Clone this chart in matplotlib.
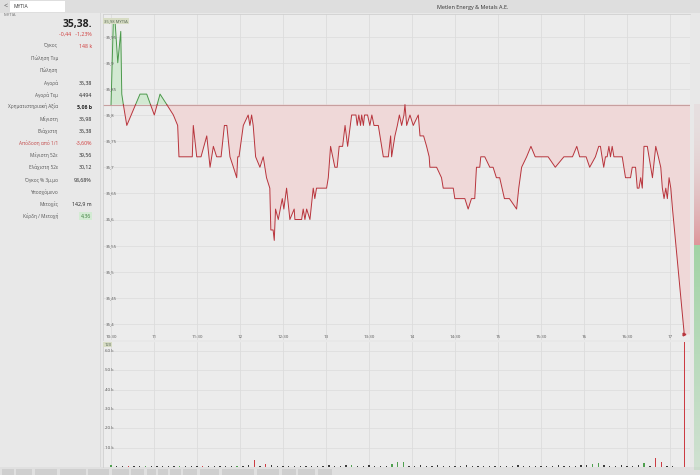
import numpy as np
import matplotlib
matplotlib.use("Agg")
import matplotlib.pyplot as plt
from matplotlib.patches import Rectangle
import matplotlib.transforms as mtransforms

plt.rcParams["font.family"] = ["Open Sans", "DejaVu Sans"]

W, H = 700, 475

# ---------------- data ----------------
prev_close = 35.82

# intraday trades: minutes after 10:30 and price (10 per row)
price_min = [0, 1.6, 2.8, 4.7, 6.8, 7.5, 8.6, 11.0, 20.2, 24.9,
             30.2, 34.2, 38.9, 43.5, 46.5, 47.4, 56.7, 57.4, 59.8, 62.8,
             66.8, 69.1, 71.4, 73.7, 76.8, 79.1, 80.8, 83.0, 85.4, 87.7,
             88.4, 89.3, 92.3, 95.7, 96.9, 98.1, 99.2, 100.9, 103.9, 106.2,
             108.5, 110.8, 111.5, 113.1, 113.9, 114.8, 116.7, 119.5, 120.6, 122.5,
             124.8, 127.8, 128.3, 133.0, 134.1, 135.3, 136.5, 138.8, 141.1, 142.2,
             143.4, 150.4, 151.6, 153.2, 156.2, 157.8, 159.2, 161.6, 163.3, 165.1,
             167.9, 170.9, 171.8, 172.9, 174.1, 174.9, 176.1, 176.9, 179.0, 180.6,
             182.0, 183.5, 186.5, 188.8, 190.0, 193.5, 195.1, 195.8, 198.1, 199.8,
             201.2, 202.8, 204.4, 205.1, 206.3, 208.6, 210.9, 214.4, 215.6, 218.1,
             220.2, 222.0, 222.5, 227.2, 230.6, 231.8, 238.8, 239.9, 246.9, 249.2,
             251.5, 253.8, 255.0, 257.3, 258.0, 260.8, 264.3, 266.6, 268.9, 271.2,
             274.5, 278.0, 283.0, 284.5, 286.5, 290.0, 293.0, 296.0, 305.0, 310.0,
             316.0, 322.0, 325.0, 327.0, 331.5, 334.0, 338.0, 340.3, 341.5, 342.6,
             343.8, 345.0, 346.2, 347.4, 348.5, 349.7, 350.9, 352.1, 354.4, 356.7,
             359.0, 362.5, 363.7, 366.0, 367.2, 368.4, 369.6, 370.7, 371.9, 374.2,
             376.6, 377.8, 380.1, 381.9, 383.6, 384.7, 385.9, 387.1, 388.2, 389.4,
             390.6, 391.8, 400.0]
price_val = [35.82, 35.98, 35.98, 35.90, 35.96, 35.84, 35.82, 35.78, 35.84, 35.84,
             35.80, 35.84, 35.82, 35.80, 35.78, 35.72, 35.72, 35.78, 35.72, 35.72,
             35.76, 35.70, 35.74, 35.72, 35.72, 35.78, 35.78, 35.72, 35.70, 35.68,
             35.72, 35.72, 35.78, 35.80, 35.78, 35.80, 35.78, 35.72, 35.70, 35.72,
             35.68, 35.66, 35.58, 35.58, 35.56, 35.62, 35.60, 35.64, 35.62, 35.66,
             35.60, 35.62, 35.60, 35.60, 35.62, 35.60, 35.62, 35.60, 35.66, 35.64,
             35.66, 35.66, 35.68, 35.74, 35.70, 35.70, 35.74, 35.74, 35.78, 35.74,
             35.80, 35.80, 35.78, 35.80, 35.78, 35.80, 35.78, 35.80, 35.80, 35.78,
             35.80, 35.78, 35.78, 35.74, 35.72, 35.72, 35.76, 35.72, 35.76, 35.78,
             35.80, 35.78, 35.80, 35.82, 35.78, 35.80, 35.78, 35.80, 35.76, 35.76,
             35.74, 35.72, 35.70, 35.70, 35.68, 35.66, 35.66, 35.64, 35.64, 35.62,
             35.64, 35.64, 35.70, 35.70, 35.72, 35.72, 35.70, 35.70, 35.68, 35.68,
             35.64, 35.64, 35.62, 35.66, 35.70, 35.72, 35.74, 35.72, 35.72, 35.70,
             35.72, 35.72, 35.74, 35.72, 35.72, 35.70, 35.72, 35.74, 35.74, 35.72,
             35.70, 35.72, 35.72, 35.74, 35.72, 35.74, 35.72, 35.72, 35.72, 35.72,
             35.68, 35.68, 35.70, 35.70, 35.66, 35.66, 35.68, 35.66, 35.74, 35.74,
             35.70, 35.68, 35.74, 35.72, 35.70, 35.66, 35.64, 35.66, 35.64, 35.68,
             35.66, 35.62, 35.38]

# volume per 4-minute bin (minutes after 10:30) + closing auction
vol_min = [0, 4, 8, 12, 16, 20, 24, 28, 32, 36, 40, 44, 48, 52, 56, 60, 64, 68, 72, 76,
           80, 84, 88, 92, 96, 100, 104, 108, 112, 116, 120, 124, 128, 132, 136, 140, 144,
           148, 152, 156, 160, 164, 168, 172, 176, 180, 184, 188, 192, 196, 200, 204, 208,
           212, 216, 220, 224, 228, 232, 236, 240, 244, 248, 252, 256, 260, 264, 268, 272,
           276, 280, 284, 288, 292, 296, 300, 304, 308, 312, 316, 320, 324, 328, 332, 336,
           340, 344, 348, 352, 356, 360, 364, 368, 372, 376, 380, 384, 388, 392, 400]
vol_val = [900, 600, 700, 400, 500, 300, 600, 400, 500, 700,
           400, 600, 300, 500, 400, 600, 700, 500, 400, 600,
           500, 400, 700, 600, 900, 3700, 600, 1400, 800, 500,
           400, 600, 300, 500, 700, 400, 600, 500, 800, 600,
           700, 900, 1100, 500, 400, 800, 600, 700, 500, 1400,
           2600, 2800, 600, 500, 900, 400, 500, 800, 600, 400,
           700, 500, 900, 600, 400, 500, 700, 600, 400, 500,
           600, 800, 500, 400, 600, 700, 500, 400, 900, 700,
           500, 600, 800, 1100, 1400, 2000, 900, 700, 600, 800,
           500, 700, 900, 2300, 600, 4700, 2600, 700, 500, 70000]
# +1 up, -1 down, 0 unchanged
vol_dir = [1, 0, 0, -1, 0, 0, 1, 0, 0, 0,
           0, 0, 1, 0, 0, 0, -1, 0, 0, 0,
           0, 0, 1, 0, 0, -1, 0, -1, 0, 0,
           0, 0, 0, 0, 0, 0, 0, 0, 0, 0,
           0, 0, 1, 0, 0, 0, 0, 0, 0, 1,
           1, 1, 0, 0, 0, 0, 0, 0, 0, 0,
           0, 0, 0, 0, 0, 0, 0, 0, 0, 0,
           0, 0, 0, 0, 0, 0, 0, 0, 0, 0,
           0, 0, 0, 0, 1, 1, 0, 0, 0, 0,
           0, 0, 0, 1, 0, -1, -1, 0, 0, -1]

time_ticks = [0, 30, 60, 90, 120, 150, 180, 210, 240, 270, 300, 330, 360, 390]
time_labels = ["10:30", "11", "11:30", "12", "12:30", "13", "13:30", "14", "14:30", "15",
               "15:30", "16", "16:30", "17"]
price_ticks = [35.4, 35.45, 35.5, 35.55, 35.6, 35.65, 35.7, 35.75, 35.8, 35.85, 35.9, 35.95]
price_labels = ["35,4", "35,45", "35,5", "35,55", "35,6", "35,65", "35,7", "35,75", "35,8",
                "35,85", "35,9", "35,95"]
vol_ticks = [10000, 20000, 30000, 40000, 50000, 60000]
vol_labels = ["10 k", "20 k", "30 k", "40 k", "50 k", "60 k"]

info_labels = ["Όγκος", "Πώληση Τεμ", "Πώληση", "Αγορά", "Αγορά Τεμ", "Χρηματιστηριακή Αξία",
               "Μέγιστη", "Ελάχιστη", "Απόδοση από 1/1", "Μέγιστη 52ε", "Ελάχιστη 52ε",
               "Όγκος % 3μ.μο", "Υποσχόμενο", "Μετοχές", "Κέρδη / Μετοχή"]
info_values = ["148 k", "", "", "35,38", "4,494", "5,06 b", "35,98", "35,38", "-3,60%",
               "39,56", "30,12", "98,68%", "", "142,9 m", "4,36"]

# ---------------- figure ----------------
def fx(x):
    return x / W

def fy(y):
    return 1 - y / H

fig = plt.figure(figsize=(7, 4.75), dpi=100, facecolor="#e8e8e8")

def rect(x0, y0, x1, y1, color, z=0, **kw):
    fig.add_artist(Rectangle((fx(x0), fy(y1)), fx(x1) - fx(x0), fy(y0) - fy(y1),
                             transform=fig.transFigure, color=color, zorder=z, lw=0, **kw))

# header
rect(0, 0, 700, 13, "#dedede")
rect(10, 1, 65, 11.5, "#ffffff", z=1)
fig.text(fx(4), fy(6.5), "<", fontsize=5, color="#555555", va="center")
fig.text(fx(14), fy(6.5), "ΜΥΤΙΑ", fontsize=3.6, color="#333333", va="center")
fig.text(fx(4), fy(15), "ΜΥΤΙΑ", fontsize=3.2, color="#777777", va="center")
fig.text(fx(473), fy(8), "Metlen Energy & Metals A.E.", fontsize=4, color="#333333",
         ha="center", va="center")
rect(100, 13, 101, 467, "#d9d9d9", z=1)

# left info panel
fig.text(fx(92), fy(25), "35,38.", fontsize=7.5, fontweight="bold", color="#222222",
         ha="right", va="center")
fig.text(fx(92), fy(34.5), "-0,44   -1,23%", fontsize=3.8, color="#d03a3a", ha="right",
         va="center")
row_y = [46, 58.5, 70.5, 83, 95, 107, 119, 131, 143, 155, 167, 180, 192, 204, 216]
for lab, val, yy in zip(info_labels, info_values, row_y):
    lc = "#c24848" if lab.startswith("Απόδοση") else "#555555"
    fig.text(fx(58), fy(yy), lab, fontsize=3.4, color=lc, ha="right", va="center")
    if not val:
        continue
    vc = "#d03a3a" if (val.startswith("-") or lab == "Όγκος") else "#222222"
    if lab == "Κέρδη / Μετοχή":
        fig.text(fx(91), fy(yy), val, fontsize=3.8, color="#3d7d3d", ha="right", va="center",
                 bbox=dict(boxstyle="square,pad=0.25", fc="#d3ebd3", ec="none"))
    else:
        fig.text(fx(92), fy(yy), val, fontsize=3.8, color=vc, ha="right", va="center",
                 fontweight="bold" if lab.startswith("Χρημ") else "normal")

# ---------------- price pane ----------------
xmin, xmax = -5.6, 404.0
ax = fig.add_axes([fx(103), fy(340), fx(690) - fx(103), fy(14) - fy(340)])
ax.set_facecolor("#ececec")
ax.set_xlim(xmin, xmax)
ax.set_ylim(35.3694, 35.9933)
for s in ax.spines.values():
    s.set_visible(False)
for side in ("left", "top"):
    ax.spines[side].set_visible(True)
    ax.spines[side].set_color("#d0d0d0")
    ax.spines[side].set_linewidth(0.6)
ax.set_xticks([])
ax.set_yticks([])
for tv in time_ticks:
    ax.axvline(tv, color="#d8d8d8", lw=0.5, zorder=0)
for pv in price_ticks:
    ax.axhline(pv, color="#dcdcdc", lw=0.5, zorder=0)

t = np.array(price_min, float)
p = np.array(price_val, float)
tt, pp = [t[0]], [p[0]]
for i in range(1, len(t)):
    a, b = p[i - 1] - prev_close, p[i] - prev_close
    if a * b < 0:
        tt.append(t[i - 1] + (t[i] - t[i - 1]) * a / (a - b))
        pp.append(prev_close)
    tt.append(t[i])
    pp.append(p[i])
tt, pp = np.array(tt), np.array(pp)

tf = np.append(tt, xmax)
pf = np.append(pp, pp[-1])
ax.fill_between(tf, pf, prev_close, where=pf >= prev_close, interpolate=True,
                color="#d2e9d2", lw=0, zorder=1)
ax.fill_between(tf, pf, prev_close, where=pf <= prev_close, interpolate=True,
                color="#efd8d8", lw=0, zorder=1)
ax.axhline(prev_close, color="#c79f9f", lw=0.8, zorder=2)
ax.plot(tt, np.where(pp >= prev_close, pp, np.nan), color="#4b994b", lw=0.7, zorder=3)
ax.plot(tt, np.where(pp <= prev_close, pp, np.nan), color="#b8343c", lw=0.7, zorder=3)
ax.plot([tt[-1]], [pp[-1]], marker=">", ms=2, color="#b8343c", zorder=4, clip_on=False)

tr_y = mtransforms.blended_transform_factory(ax.transAxes, ax.transData)
for pv, pl in zip(price_ticks, price_labels):
    ax.text(0.004, pv, pl, transform=tr_y, fontsize=3.2, color="#555555", va="center")
tr_x = mtransforms.blended_transform_factory(ax.transData, ax.transAxes)
for tv, tl in zip(time_ticks, time_labels):
    ax.text(tv, 0.01, tl, transform=tr_x, fontsize=3.2, color="#555555", ha="center",
            va="center")
ax.text(0.002, 0.985, "35,98 ΜΥΤΙΑ", transform=ax.transAxes, fontsize=3, color="#556655",
        va="top", bbox=dict(boxstyle="square,pad=0.3", fc="#d7dcc4", ec="none"))

# ---------------- volume pane ----------------
axv = fig.add_axes([fx(103), fy(467), fx(690) - fx(103), fy(342) - fy(467)])
axv.set_facecolor("#ececec")
axv.set_xlim(xmin, xmax)
axv.set_ylim(0, 64660)
for s in axv.spines.values():
    s.set_visible(False)
axv.spines["left"].set_visible(True)
axv.spines["left"].set_color("#d0d0d0")
axv.spines["left"].set_linewidth(0.6)
axv.set_xticks([])
axv.set_yticks([])
for tv in time_ticks:
    axv.axvline(tv, color="#d8d8d8", lw=0.5, zorder=0)
for vv in vol_ticks:
    axv.axhline(vv, color="#dcdcdc", lw=0.5, zorder=0)
vcols = {1: "#4f9f4f", -1: "#cc3d44", 0: "#3a3a3a"}
axv.bar(vol_min, vol_val, width=0.9, color=[vcols[d] for d in vol_dir], lw=0, zorder=2)
trv = mtransforms.blended_transform_factory(axv.transAxes, axv.transData)
for vv, vl in zip(vol_ticks, vol_labels):
    axv.text(0.004, vv, vl, transform=trv, fontsize=3.2, color="#555555", va="center")
axv.text(0.002, 0.995, "120", transform=axv.transAxes, fontsize=3, color="#556655",
         va="top", bbox=dict(boxstyle="square,pad=0.2", fc="#d7dcc4", ec="none"))

# order book strip on the right
axo = fig.add_axes([fx(694), fy(470), fx(700) - fx(694), fy(104) - fy(470)])
axo.set_axis_off()
n = 366
grad = np.ones((n, 1, 4))
split = 141
for k in range(n):
    if k < split:
        grad[k, 0, :3] = (0.87, 0.55, 0.57)
        grad[k, 0, 3] = 0.1 + 0.8 * (k / split) ** 2
    else:
        grad[k, 0, :3] = (0.60, 0.82, 0.62)
        grad[k, 0, 3] = 0.9 - 0.6 * (k - split) / (n - split)
axo.imshow(grad, aspect="auto", interpolation="bilinear")

# bottom toolbar
rect(0, 467, 700, 475, "#e0e0e0")
btn_x = [2, 16, 35, 60, 88, 112, 131, 147, 158, 170, 183, 200, 222, 257, 282, 298, 318]
btn_w = [12, 16, 22, 26, 21, 17, 13, 9, 10, 11, 14, 19, 32, 22, 14, 17, 14]
for bx, bw in zip(btn_x, btn_w):
    rect(bx, 468.5, bx + bw, 475, "#cfcfcf", z=1)

fig.savefig("out.png", dpi=100, facecolor=fig.get_facecolor())
